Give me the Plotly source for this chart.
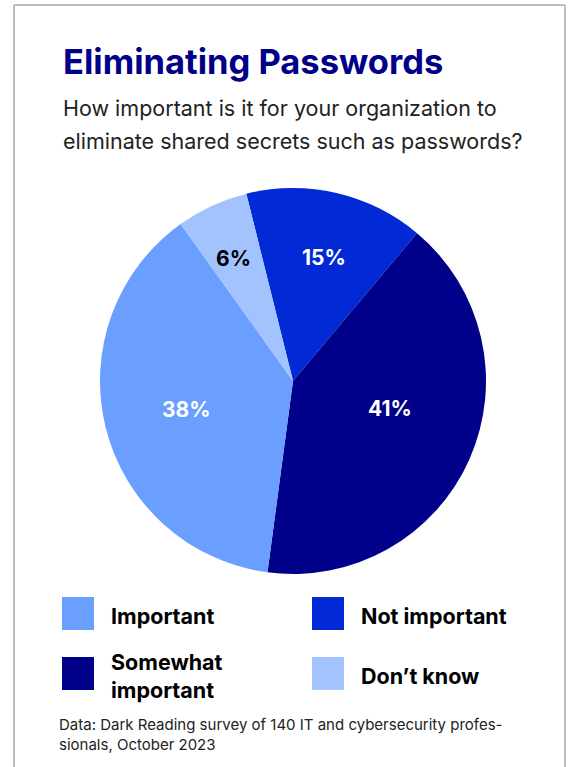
import math
import plotly.graph_objects as go

# Survey responses (percent of respondents), in clockwise order from the top
categories = ["Not important", "Somewhat important", "Important", "Don\u2019t know"]
shares = [15, 41, 38, 6]
slice_colors = ["#0229D6", "#00008A", "#6A9EFF", "#A3C3FF"]
label_colors = ["#FFFFFF", "#FFFFFF", "#FFFFFF", "#000000"]

# Legend layout order (two columns)
legend_order = ["Important", "Not important", "Somewhat important", "Don\u2019t know"]
legend_text = {
    "Important": "Important",
    "Not important": "Not important",
    "Somewhat important": "Somewhat<br>important",
    "Don\u2019t know": "Don\u2019t know",
}

title = "Eliminating Passwords"
subtitle_lines = [
    "How important is it for your organization to",
    "eliminate shared secrets such as passwords?",
]
source = "Data: Dark Reading survey of 140 IT and cybersecurity profes-<br>sionals, October 2023"

W, H = 573, 767
FONT = "Inter"

# Pie geometry in pixels
CX, CY, R = 293, 381, 193
ROTATION = -14

# Where each percentage label sits inside its slice: (angle from 12 o'clock, distance from centre)
label_polar = {
    "Not important": (14, 127),
    "Somewhat important": (106, 101),
    "Important": (255, 110),
    "Don\u2019t know": (334, 136),
}


def px(x):
    return x / W


def py(y):
    return 1 - y / H


fig = go.Figure()
fig.add_trace(go.Pie(
    labels=categories,
    values=shares,
    sort=False,
    direction="clockwise",
    rotation=ROTATION,
    marker=dict(colors=slice_colors, line=dict(width=0)),
    textinfo="none",
    hoverinfo="label+percent",
    showlegend=False,
    domain=dict(x=[px(CX - R), px(CX + R)], y=[py(CY + R), py(CY - R)]),
))

shapes = []
annotations = []

# Percentage labels, text taken from the share values
for name, value, color in zip(categories, shares, label_colors):
    ang, dist = label_polar[name]
    lx = CX + dist * math.sin(math.radians(ang))
    ly = CY - dist * math.cos(math.radians(ang))
    annotations.append(dict(
        text=f"{value}%", xref="paper", yref="paper", x=px(lx), y=py(ly),
        xanchor="center", yanchor="middle", showarrow=False,
        font=dict(family=FONT, size=21, color=color, weight=700),
    ))

# Card border (no bottom edge)
border = dict(color="#A8A8A8", width=1.5)
shapes += [
    dict(type="line", xref="paper", yref="paper", x0=px(14), x1=px(14), y0=py(5), y1=0, line=border),
    dict(type="line", xref="paper", yref="paper", x0=px(14), x1=px(565), y0=py(5), y1=py(5), line=border),
    dict(type="line", xref="paper", yref="paper", x0=px(565), x1=px(565), y0=py(5), y1=0, line=border),
]

annotations.append(dict(
    text=title, xref="paper", yref="paper", x=px(61), y=py(61),
    xanchor="left", yanchor="middle", showarrow=False,
    font=dict(family=FONT, size=34.5, color="#00008A", weight=700),
))
for i, line in enumerate(subtitle_lines):
    annotations.append(dict(
        text=line, xref="paper", yref="paper", x=px(61), y=py(108 + 33 * i),
        xanchor="left", yanchor="middle", showarrow=False, align="left",
        font=dict(family=FONT, size=21.5, color="#222222"),
    ))

# Custom legend: colour swatch + bold label, two columns
color_of = dict(zip(categories, slice_colors))
cols = [62, 312]
rows = [597, 657]
for i, name in enumerate(legend_order):
    x0 = cols[i % 2]
    y0 = rows[i // 2]
    shapes.append(dict(
        type="rect", xref="paper", yref="paper",
        x0=px(x0), x1=px(x0 + 32), y0=py(y0 + 33), y1=py(y0),
        fillcolor=color_of[name], line=dict(width=0),
    ))
    annotations.append(dict(
        text=legend_text[name], xref="paper", yref="paper",
        x=px(x0 + 47), y=py(y0 + 19), xanchor="left", yanchor="middle",
        showarrow=False, align="left",
        font=dict(family=FONT, size=21.5, color="#000000", weight=700),
    ))

annotations.append(dict(
    text=source, xref="paper", yref="paper", x=px(57), y=py(734),
    xanchor="left", yanchor="middle", showarrow=False, align="left",
    font=dict(family=FONT, size=15, color="#222222"),
))

fig.update_layout(
    width=W, height=H,
    margin=dict(l=0, r=0, t=0, b=0),
    paper_bgcolor="#FFFFFF",
    plot_bgcolor="#FFFFFF",
    shapes=shapes,
    annotations=annotations,
)

fig.write_html("out.html")
